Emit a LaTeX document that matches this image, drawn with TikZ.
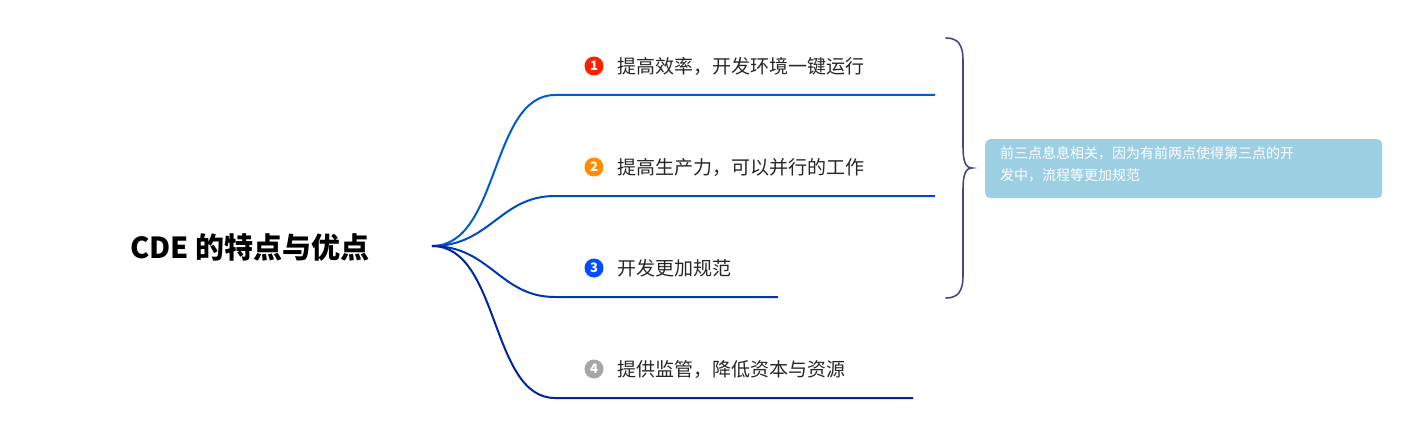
\documentclass[tikz,border=0pt]{standalone}
\usepackage{fontspec}
\setmainfont{Noto Sans CJK SC}
\begin{document}
\begin{tikzpicture}[x=1pt,y=-1pt,
 br/.style={line width=2pt},
 lbl/.style={anchor=west,font=\fontsize{19}{22}\selectfont,text=black!85,inner sep=0},
 num/.style={circle,inner sep=0,minimum size=19pt,font=\fontsize{13}{13}\selectfont\bfseries,text=white}]
\useasboundingbox (0,0) rectangle (1425,436);
\node[font=\fontsize{29}{32}\selectfont\bfseries,inner sep=0] (root) at (250,248) {CDE 的特点与优点};
\coordinate (o) at (432,246);
\coordinate (s1) at (555,95); \coordinate (e1) at (935,95);
\coordinate (s2) at (555,196); \coordinate (e2) at (935,196);
\coordinate (s3) at (555,297); \coordinate (e3) at (778,297);
\coordinate (s4) at (555,398); \coordinate (e4) at (913,398);
\draw[br,color=blue!55!cyan!80!black] (o) .. controls (500,246) and (490,95) .. (s1) -- (e1);
\draw[br,color=blue!60!cyan!75!black] (o) .. controls (490,246) and (500,196) .. (s2) -- (e2);
\draw[br,color=blue!70!cyan!70!black] (o) .. controls (490,246) and (500,297) .. (s3) -- (e3);
\draw[br,color=blue!75!cyan!60!black] (o) .. controls (500,246) and (490,398) .. (s4) -- (e4);
\node[num,fill=red!75!orange] (n1) at (594,66) {1};
\node[num,fill=orange!90!yellow] (n2) at (594,167) {2};
\node[num,fill=blue!70!cyan] (n3) at (594,268) {3};
\node[num,fill=gray!70] (n4) at (594,369) {4};
\node[lbl] (t1) at (617,66) {提高效率，开发环境一键运行};
\node[lbl] (t2) at (617,167) {提高生产力，可以并行的工作};
\node[lbl] (t3) at (617,268) {开发更加规范};
\node[lbl] (t4) at (617,369) {提供监管，降低资本与资源};
\draw[line width=1.6pt,color=gray!70!blue!80!black,line cap=round] (946,38) .. controls (958,38) and (963,45) .. (963,60) -- (963,146) .. controls (963,160) and (965,168) .. (972,168) .. controls (965,168) and (963,176) .. (963,190) -- (963,276) .. controls (963,291) and (958,298) .. (946,298);
\node[fill=gray!55!blue!35!black!60,fill=gray!75!blue!60!cyan!50,rounded corners=5pt,minimum width=397pt,minimum height=59pt,anchor=north west,inner sep=0] (c) at (985,139) {};
\node[anchor=north west,text=white,font=\fontsize{14}{22}\selectfont,align=left,inner sep=0] (ct) at (1000,146) {前三点息息相关，因为有前两点使得第三点的开\\发中，流程等更加规范};
\end{tikzpicture}
\end{document}
